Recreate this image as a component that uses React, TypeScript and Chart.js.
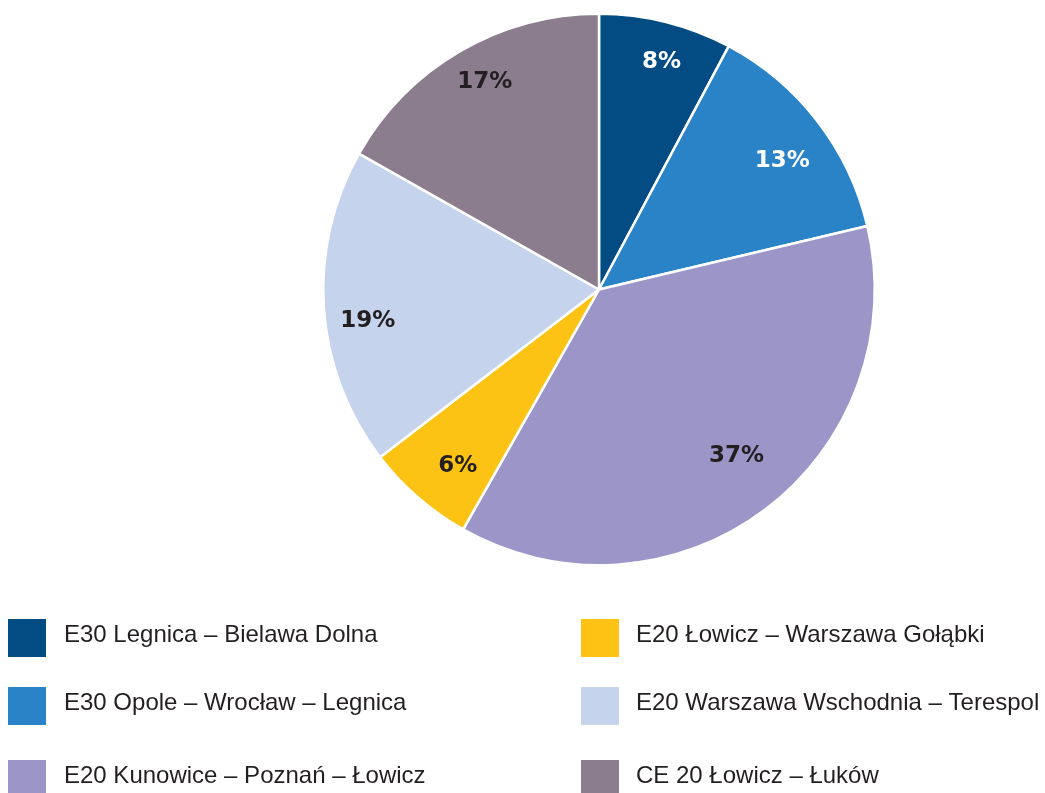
import React, { useEffect, useRef } from "react";
import { Chart, registerables } from "chart.js";

Chart.register(...registerables);

const categories = [
  "E30 Legnica – Bielawa Dolna",
  "E30 Opole – Wrocław – Legnica",
  "E20 Kunowice – Poznań – Łowicz",
  "E20 Łowicz – Warszawa Gołąbki",
  "E20 Warszawa Wschodnia – Terespol",
  "CE 20 Łowicz – Łuków",
];
const values = [7.8, 13.5, 36.9, 6.4, 18.6, 16.8];
const pctLabels = ["8%", "13%", "37%", "6%", "19%", "17%"];
const colors = ["#024b83", "#2983c6", "#9c95c8", "#fcc314", "#c5d3ec", "#8b7d8d"];
const labelColors = ["#ffffff", "#ffffff", "#231f20", "#231f20", "#231f20", "#231f20"];
// small hand nudges of the percentage labels (style only)
const labelNudgeX = [7, 2, 0, 9, -3, 1];
const labelNudgeY = [-5, 11, -16, 4, 16, -10];

const sliceLabelPlugin = {
  id: "sliceLabels",
  afterDatasetsDraw(chart: any) {
    const ctx = chart.ctx;
    const meta = chart.getDatasetMeta(0);
    ctx.save();
    ctx.font = "bold 23px 'DejaVu Sans'";
    ctx.textAlign = "center";
    ctx.textBaseline = "middle";
    meta.data.forEach((arc: any, i: number) => {
      const mid = (arc.startAngle + arc.endAngle) / 2;
      const r = arc.outerRadius * 0.83;
      const x = arc.x + Math.cos(mid) * r + labelNudgeX[i];
      const y = arc.y + Math.sin(mid) * r + labelNudgeY[i];
      ctx.fillStyle = labelColors[i];
      ctx.fillText(pctLabels[i], x, y);
    });
    ctx.restore();
  },
};

const legendPlugin = {
  id: "customLegend",
  afterDraw(chart: any) {
    const ctx = chart.ctx;
    const colX = [8, 581];
    const textX = [64, 636];
    const rowY = [619, 687, 760];
    ctx.save();
    ctx.font = "24px 'Liberation Sans'";
    ctx.textAlign = "left";
    ctx.textBaseline = "middle";
    categories.forEach((label, i) => {
      const col = Math.floor(i / 3);
      const row = i % 3;
      ctx.fillStyle = colors[i];
      ctx.fillRect(colX[col], rowY[row], 38, 38);
      ctx.fillStyle = "#231f20";
      ctx.fillText(label, textX[col], rowY[row] + 16);
    });
    ctx.restore();
  },
};

export default function App() {
  const ref = useRef<HTMLCanvasElement>(null);
  useEffect(() => {
    const chart = new Chart(ref.current!, {
      type: "pie",
      data: {
        labels: categories,
        datasets: [
          {
            data: values,
            backgroundColor: colors,
            borderColor: "#ffffff",
            borderWidth: 2.5,
          },
        ],
      },
      options: {
        animation: false,
        responsive: false,
        maintainAspectRatio: false,
        layout: { padding: { top: 12, bottom: 226, left: 322, right: 169 } },
        plugins: {
          legend: { display: false },
          tooltip: { enabled: false },
        },
      },
      plugins: [sliceLabelPlugin, legendPlugin],
    });
    return () => chart.destroy();
  }, []);
  return (
    <div style={{ position: "absolute", left: 0, top: 0, width: 1045, height: 793, background: "#fff" }}>
      <canvas ref={ref} width={1045} height={793} style={{ width: 1045, height: 793 }} />
    </div>
  );
}
